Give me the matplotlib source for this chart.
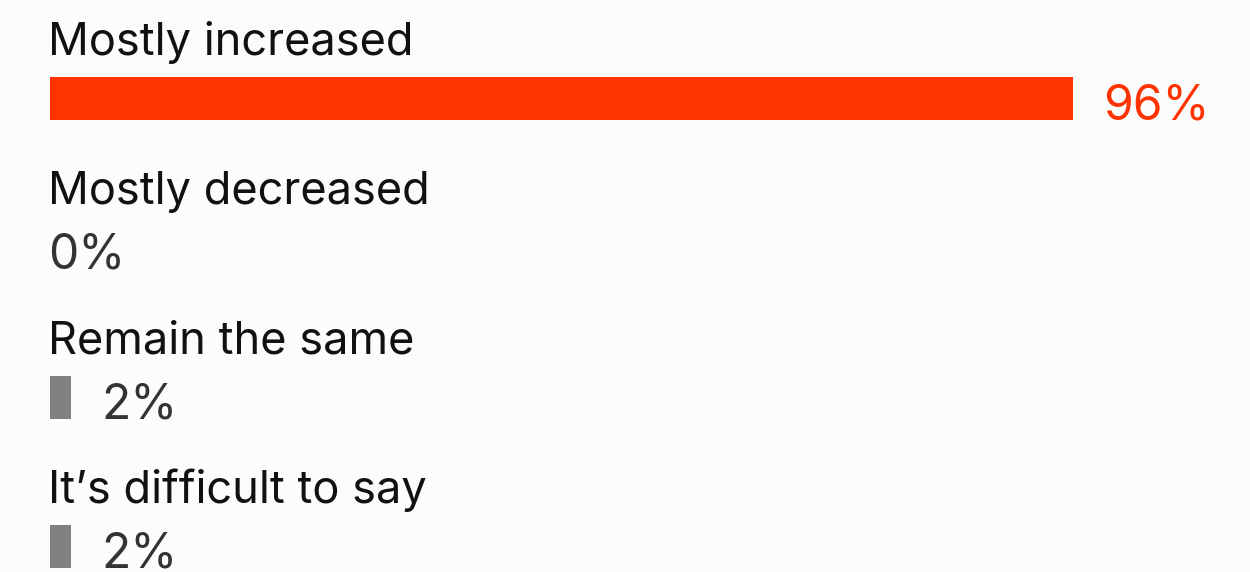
import matplotlib
matplotlib.use("Agg")
import matplotlib.pyplot as plt

categories = ["Mostly increased", "Mostly decreased", "Remain the same", "It\u2019s difficult to say"]
values = [96, 0, 2, 2]
bar_colors = ["#ff3300", "#808080", "#808080", "#808080"]
value_colors = ["#ff3300", "#333333", "#333333", "#333333"]

BG = "#fcfcfc"
W, H, DPI = 1250, 572, 100
fig = plt.figure(figsize=(W / DPI, H / DPI), dpi=DPI, facecolor=BG)

left_px, full_px = 50, 1066
row_px, first_px = 149.3, 98.5
ax = fig.add_axes([left_px / W, 0, full_px / W, 1])
ax.set_facecolor(BG)
ax.set_xlim(0, 100)
ax.set_ylim((H - first_px) / row_px, -first_px / row_px)
ax.axis("off")

bar_h = 43 / row_px
px = 0.72  # points per pixel
fs = 32.5
fs_val = 34.5

for i, (cat, v) in enumerate(zip(categories, values)):
    if v > 0:
        ax.barh(i, v, height=bar_h, left=0, color=bar_colors[i], linewidth=0)
    ax.annotate(cat, xy=(0, i), xytext=(-2 * px, 43.5 * px), textcoords="offset points",
                ha="left", va="baseline", fontsize=fs, family="Inter", color="#111111")
    gap = 30 * px if v > 0 else -2 * px
    ax.annotate(f"{v}%", xy=(v, i), xytext=(gap, -21 * px), textcoords="offset points",
                ha="left", va="baseline", fontsize=fs_val, family="Inter", color=value_colors[i],
                annotation_clip=False)

fig.savefig("out.png", dpi=DPI, facecolor=BG)
